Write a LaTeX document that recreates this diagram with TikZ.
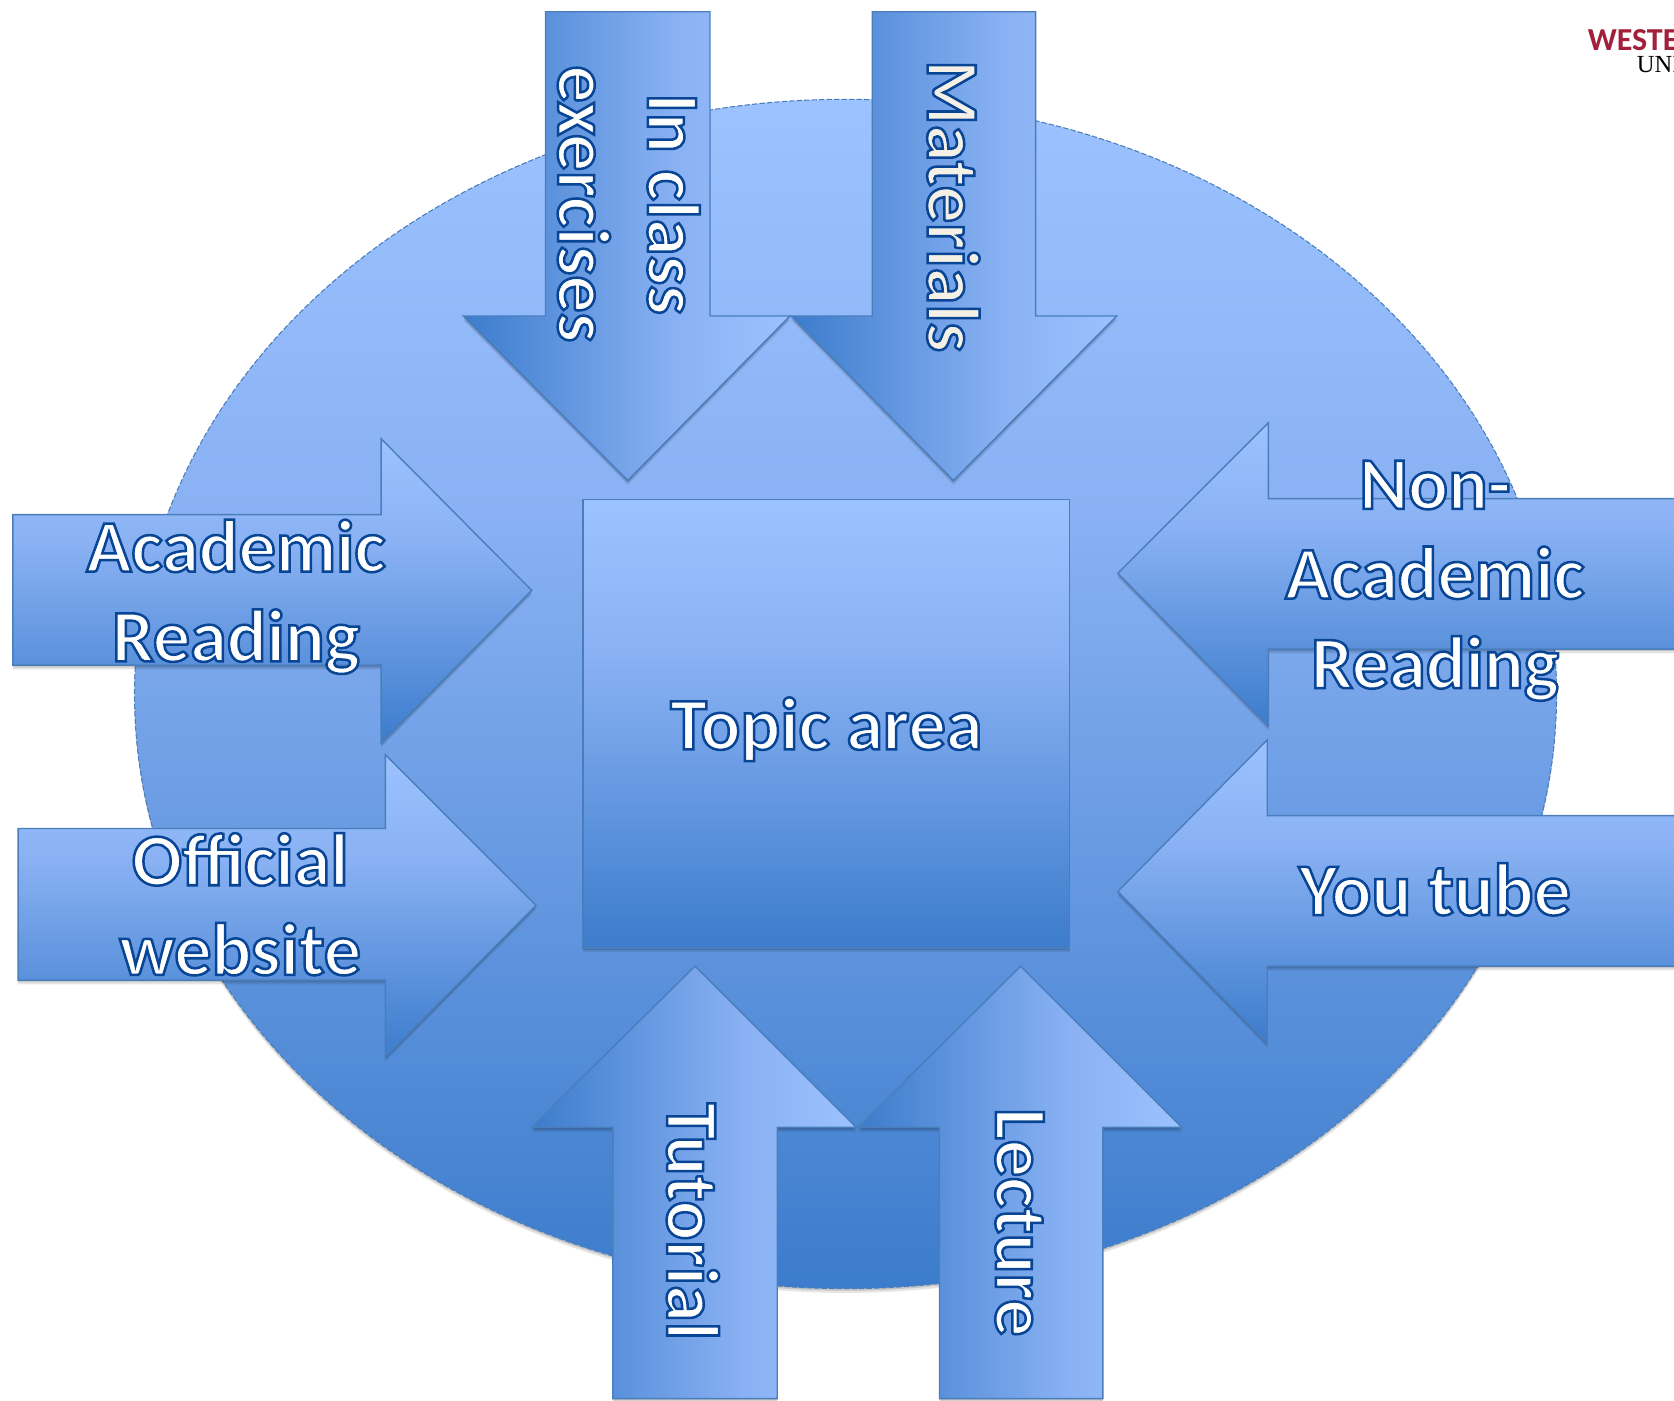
\documentclass[tikz,border=0pt]{standalone}
\usepackage{fontspec}
\usetikzlibrary{shadows}
\setmainfont{Carlito}
\newfontfamily\lblfont[BoldFeatures={FakeBold=3.4}]{Carlito}
\newfontfamily\logoserif{Liberation Serif}
\definecolor{lite}{HTML}{9CC2FF}
\definecolor{midb}{HTML}{89B1F3}
\definecolor{deep}{HTML}{3C7CCC}
\definecolor{edgeb}{HTML}{4A7EBB}
\definecolor{logored}{HTML}{A2213A}
\pgfdeclareverticalshading{officev}{100bp}{color(0bp)=(deep); color(25bp)=(deep); color(57.5bp)=(midb); color(75bp)=(lite); color(100bp)=(lite)}
\pgfdeclarehorizontalshading{officeh}{100bp}{color(0bp)=(deep); color(25bp)=(deep); color(57.5bp)=(midb); color(75bp)=(lite); color(100bp)=(lite)}
\newcommand{\inkon}{\special{pdf:bcolor [1 1 1] [0.03 0.27 0.58]}}
\newcommand{\creamon}{\special{pdf:bcolor [0.96 0.94 0.9] [0.03 0.27 0.58]}}
\newcommand{\inkoff}{\special{pdf:ecolor}}
\tikzset{
  softshadow/.style={
    drop shadow={shadow xshift=0pt,shadow yshift=-4pt,opacity=.10,fill=black},
    drop shadow={shadow xshift=0pt,shadow yshift=-2pt,opacity=.14,fill=black}},
  block/.style={draw=edgeb,line width=1.3pt,line join=miter,softshadow},
  vgrad/.style={block,shade,shading=officev},
  hgrad/.style={block,shade,shading=officeh},
  lbl/.style={align=center,inner sep=0pt,
    font=\lblfont\bfseries\fontsize{69.5}{84}\selectfont},
  vlbl/.style={lbl,rotate=-90},
}
\begin{document}
\begin{tikzpicture}[x=1pt,y=-1pt]
\useasboundingbox (0,0) rectangle (1568,1311.4);
% large disc
\path[shade,shading=officev,softshadow] (792,650) ellipse [x radius=666,y radius=557];
\draw[edgeb,line width=1pt,dash pattern=on 5pt off 2pt] (792,650) ellipse [x radius=666,y radius=557];
% centre square
\path[vgrad] (546,468) rectangle (1002,888);
% top arrows
\path[hgrad] (511,11) -- (665,11) -- (665,296) -- (740,296) -- (588,450) -- (434,296) -- (511,296) -- cycle;
\path[hgrad] (817,11) -- (970,11) -- (970,296) -- (1046,296) -- (893,450) -- (741,296) -- (817,296) -- cycle;
% left arrows
\path[vgrad] (12,482) -- (357,482) -- (357,411) -- (498,553) -- (357,696) -- (357,623) -- (12,623) -- cycle;
\path[vgrad] (17,776) -- (361,776) -- (361,707) -- (502,848) -- (361,990) -- (361,918) -- (17,918) -- cycle;
% right arrows
\path[vgrad] (1600,467) -- (1188,467) -- (1188,396) -- (1047,537) -- (1188,680) -- (1188,608) -- (1600,608) -- cycle;
\path[vgrad] (1600,764) -- (1187,764) -- (1187,693) -- (1047,835) -- (1187,977) -- (1187,905) -- (1600,905) -- cycle;
% bottom arrows
\path[hgrad] (574,1310) -- (574,1056) -- (498,1056) -- (651,905) -- (802,1056) -- (728,1056) -- (728,1310) -- cycle;
\path[hgrad] (880,1310) -- (880,1056) -- (804,1056) -- (956,905) -- (1107,1056) -- (1033,1056) -- (1033,1310) -- cycle;
% labels
\node[lbl] (topic) at (774,683) {\inkon Topic area\inkoff};
\node[lbl] (acad) at (221,559) {\inkon Academic\inkoff\\\inkon Reading\inkoff};
\node[lbl] (off) at (225,847) {\inkon Official\inkoff\\\inkon website\inkoff};
\node[lbl] (nonacad) at (1344,544) {\inkon Non-\inkoff\\\inkon Academic\inkoff\\\inkon Reading\inkoff};
\node[lbl] (yt) at (1344,833) {\inkon You tube\inkoff};
\node[vlbl] (inclass) at (589,191) {\inkon In class\inkoff\\\inkon exercises\inkoff};
\node[vlbl] (mat) at (893,193) {\creamon Materials\inkoff};
\node[vlbl] (tut) at (649,1144) {\inkon Tutorial\inkoff};
\node[vlbl] (lec) at (955,1145) {\inkon Lecture\inkoff};
% logo
\node[anchor=base west,inner sep=0pt,text=logored,font=\bfseries\fontsize{30}{30}\selectfont] (logoa) at (1487,47) {WESTE};
\node[anchor=base west,inner sep=0pt,text=black,font=\logoserif\fontsize{23}{23}\selectfont] (logob) at (1533,68) {UNI};
\end{tikzpicture}
\end{document}
